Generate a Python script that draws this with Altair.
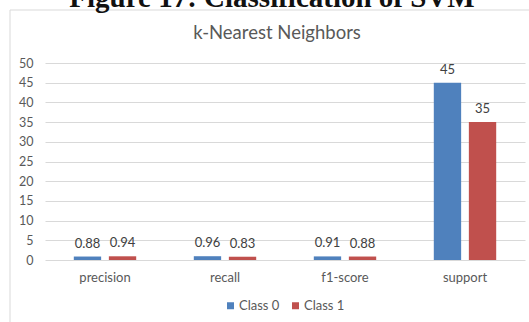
import altair as alt
import pandas as pd

# ---- data -------------------------------------------------------------
caption = "Figure 17: Classification of SVM"
chart_title = "k-Nearest Neighbors"
metrics = ["precision", "recall", "f1-score", "support"]
class_names = ["Class 0", "Class 1"]
class0_values = [0.88, 0.96, 0.91, 45]
class1_values = [0.94, 0.83, 0.88, 35]
y_ticks = [0, 5, 10, 15, 20, 25, 30, 35, 40, 45, 50]
class_colors = ["#4F81BD", "#C0504D"]

rows = []
for i, metric in enumerate(metrics):
    for name, series in zip(class_names, [class0_values, class1_values]):
        v = series[i]
        rows.append({"metric": metric, "cls": name, "value": v, "label": f"{v:g}"})
df = pd.DataFrame(rows)

FONT = "Lato"
TEXT_GRAY = "#595959"
GRID_GRAY = "#d9d9d9"

# plot area geometry (pixels)
W, H = 480, 197
PAD = {"left": 45, "top": 63, "right": 4, "bottom": 62}

x_enc = alt.X(
    "metric:N",
    sort=metrics,
    scale=alt.Scale(paddingInner=0.48, paddingOuter=0.24),
    axis=alt.Axis(
        title=None, labelAngle=0, domain=False, ticks=False, labelPadding=11,
        labelFont=FONT, labelFontSize=13, labelColor=TEXT_GRAY,
    ),
)
xo_enc = alt.XOffset("cls:N", sort=class_names, scale=alt.Scale(paddingInner=0.22))
y_enc = alt.Y(
    "value:Q",
    scale=alt.Scale(domain=[0, 50], nice=False),
    axis=alt.Axis(
        values=y_ticks, title=None, domain=False, ticks=False, labelPadding=12,
        labelOverlap=False, labelFont=FONT, labelFontSize=12.5,
        labelColor=TEXT_GRAY, gridColor=GRID_GRAY, gridWidth=1,
    ),
)

bars = alt.Chart(df).mark_bar().encode(
    x=x_enc,
    xOffset=xo_enc,
    y=y_enc,
    color=alt.Color(
        "cls:N",
        scale=alt.Scale(domain=class_names, range=class_colors),
        legend=alt.Legend(
            title=None, orient="none", legendX=179, legendY=236,
            direction="horizontal", symbolType="square", symbolSize=49,
            symbolStrokeWidth=0, labelFont=FONT, labelFontSize=13,
            labelColor=TEXT_GRAY, columnPadding=9, labelOffset=2,
        ),
    ),
)

value_labels = alt.Chart(df).mark_text(
    baseline="bottom", dy=-6, font=FONT, fontSize=13, color="#404040"
).encode(
    x=x_enc,
    xOffset=xo_enc,
    y=y_enc,
    text="label:N",
)

frame = alt.Chart(pd.DataFrame({"k": [0]})).mark_rect(
    fillOpacity=0, stroke=GRID_GRAY, strokeWidth=1
).encode(
    x=alt.value(-35), x2=alt.value(600), y=alt.value(-53), y2=alt.value(400)
)

title_mark = alt.Chart(pd.DataFrame({"t": [chart_title]})).mark_text(
    font=FONT, fontSize=18.5, color=TEXT_GRAY, baseline="middle"
).encode(text="t:N", x=alt.value(232), y=alt.value(-30))

caption_mark = alt.Chart(pd.DataFrame({"t": [caption]})).mark_text(
    font="Liberation Serif", fontSize=29, fontWeight="bold", color="#111111",
    baseline="alphabetic"
).encode(text="t:N", x=alt.value(227), y=alt.value(-56))

chart = alt.layer(frame, caption_mark, title_mark, bars, value_labels).properties(
    width=W, height=H,
    autosize=alt.AutoSizeParams(type="none"),
    padding=PAD,
    background="white",
).configure_view(strokeWidth=0)

chart.save("out.html", embed_options={"renderer": "svg", "actions": False})
